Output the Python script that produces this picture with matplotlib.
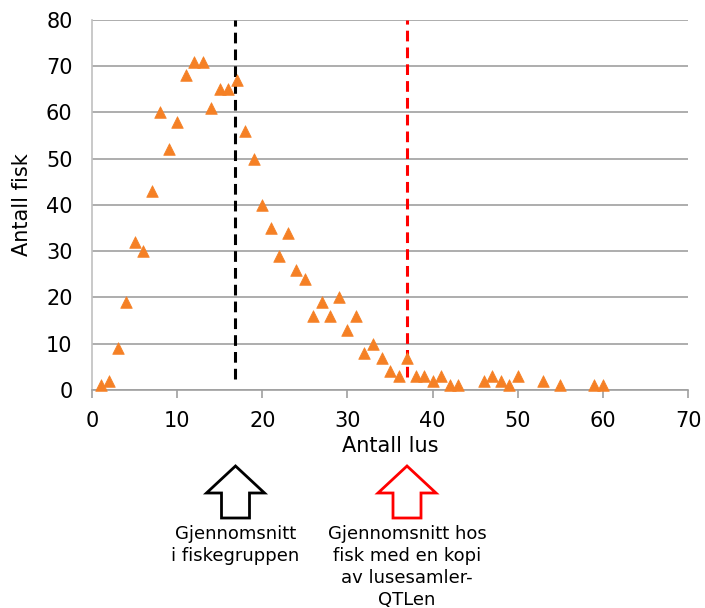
import matplotlib
matplotlib.use("Agg")
from matplotlib import pyplot as plt
from matplotlib.patches import Polygon

# antall lus per fisk (x) og antall fisk (y)
lus = [1, 2, 3, 4, 5, 6, 7, 8, 9, 10, 11, 12, 13, 14, 15, 16, 17, 18, 19, 20,
       21, 22, 23, 24, 25, 26, 27, 28, 29, 30, 31, 32, 33, 34, 35, 36, 37, 38,
       39, 40, 41, 42, 43, 46, 47, 48, 49, 50, 53, 55, 59, 60]
fisk = [1, 2, 9, 19, 32, 30, 43, 60, 52, 58, 68, 71, 71, 61, 65, 65, 67, 56, 50, 40,
        35, 29, 34, 26, 24, 16, 19, 16, 20, 13, 16, 8, 10, 7, 4, 3, 7, 3,
        3, 2, 3, 1, 1, 2, 3, 2, 1, 3, 2, 1, 1, 1]

snitt_alle = 16.8
snitt_qtl = 37.0

xticks = [0, 10, 20, 30, 40, 50, 60, 70]
yticks = [0, 10, 20, 30, 40, 50, 60, 70, 80]

plt.rcParams['font.family'] = 'DejaVu Sans'

fig = plt.figure(figsize=(7.05, 6.08), dpi=100)
ax = fig.add_axes([0.1305, 0.3586, 0.8455, 0.6086])

ax.scatter(lus, fisk, marker='^', s=70, color='#f58025', edgecolors='#f58025',
           linewidths=0.5, zorder=3, clip_on=False)

ax.vlines(snitt_alle, 2.4, 80, colors='black', linestyles=(0, (3.5, 2)), linewidth=2.2, zorder=2)
ax.vlines(snitt_qtl, 2.8, 80, colors='red', linestyles=(0, (3.5, 2)), linewidth=2.2, zorder=2)

ax.set_xlim(0, 70)
ax.set_ylim(0, 80)
ax.set_xticks(xticks)
ax.set_yticks(yticks)
ax.yaxis.grid(True, color='#a0a0a0', linewidth=1.2)
ax.set_axisbelow(True)
for s in ['top', 'right']:
    ax.spines[s].set_visible(False)
ax.spines['left'].set_color('#c0c0c0')
ax.spines['bottom'].set_color('#a0a0a0')
ax.spines['left'].set_linewidth(1.2)
ax.spines['bottom'].set_linewidth(1.2)
ax.tick_params(axis='y', length=0, labelsize=15, pad=14)
ax.tick_params(axis='x', length=6, width=1.2, color='#a0a0a0', labelsize=15, pad=9)

ax.set_xlabel('Antall lus', fontsize=15, labelpad=4)
ax.set_ylabel('Antall fisk', fontsize=15, labelpad=10)


def pil(xc, farge):
    # opp-pil i pikselkoordinater (y fra toppen)
    pts = [(xc, 466), (xc + 29, 493), (xc + 14, 493), (xc + 14, 518),
           (xc - 14, 518), (xc - 14, 493), (xc - 29, 493)]
    pts = [(px / 705, 1 - py / 608) for px, py in pts]
    fig.patches.append(Polygon(pts, closed=True, fill=False, edgecolor=farge,
                               linewidth=2, transform=fig.transFigure))


pil(235.5, 'black')
pil(407, 'red')

fig.text(235.5 / 705, 1 - 525 / 608, 'Gjennomsnitt\ni fiskegruppen', ha='center', va='top',
         fontsize=13, linespacing=1.28)
fig.text(407 / 705, 1 - 525 / 608, 'Gjennomsnitt hos\nfisk med en kopi\nav lusesamler-\nQTLen',
         ha='center', va='top', fontsize=13, linespacing=1.28)

fig.savefig('out.png', dpi=100)
